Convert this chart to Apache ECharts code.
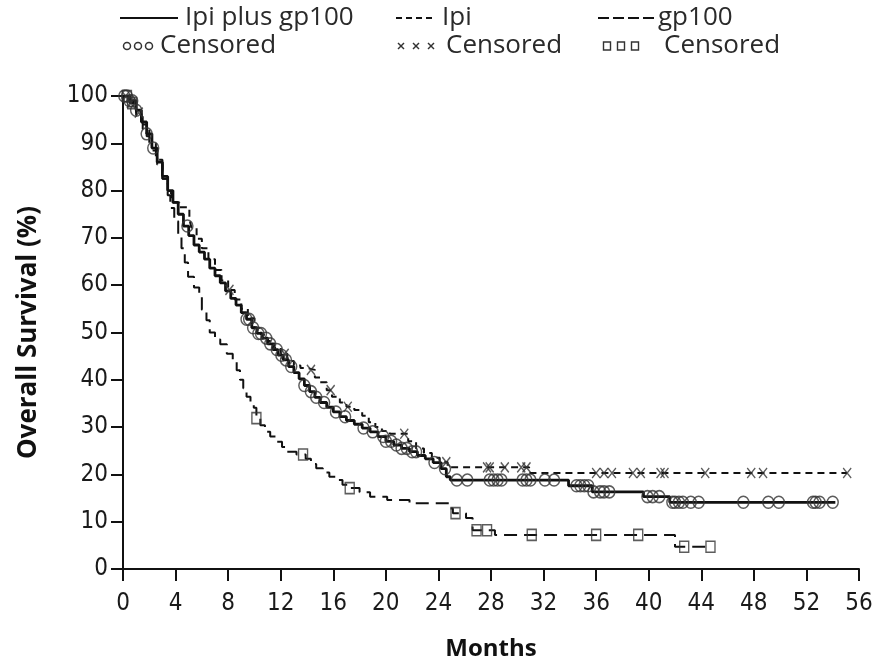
<!DOCTYPE html>
<html>
<head>
<meta charset="utf-8">
<style>
  html, body { margin: 0; padding: 0; background: #ffffff; }
  #chart { width: 876px; height: 663px; }
</style>
<script src="https://cdn.jsdelivr.net/npm/echarts@6/dist/echarts.min.js"></script>
</head>
<body>
<div id="chart"></div>
<script>
// Kaplan-Meier step curves: [month, survival %] at each drop
const comboCurve = [
  [0,100],[0.5,99],[1.0,97],[1.4,94.5],[1.8,92],[2.2,89],[2.6,86],[3.0,83],[3.4,80],
  [3.8,77.5],[4.2,75],[4.6,72.5],[5.0,70.5],[5.4,68.5],[5.8,67],[6.2,65.5],[6.6,63.6],
  [7.0,62],[7.4,60.5],[7.8,58.8],[8.2,57.2],[8.6,55.8],[9.0,54.2],[9.4,52.8],[9.8,51],
  [10.2,49.8],[10.6,48.8],[11.0,47.6],[11.4,46.4],[11.8,45.2],[12.2,44.2],[12.6,42.8],
  [13.0,41.5],[13.4,40.2],[13.8,38.8],[14.2,37.5],[14.6,36.3],[15.0,35.2],[15.5,34.2],
  [16.0,33.2],[16.5,32.2],[17.0,31.4],[17.6,30.6],[18.2,29.8],[18.8,29.0],[19.4,28.0],
  [20.0,27.0],[20.6,26.2],[21.2,25.5],[21.8,24.8],[22.4,24.0],[23.0,23.3],[23.6,22.5],
  [24.2,21.2],[24.6,19.5],[24.9,18.8],[33.9,17.6],[35.7,16.3],[39.6,15.3],[41.6,14.1],
  [54.2,14.1]
];
const ipiCurve = [
  [0,100],[0.5,98.5],[1.0,96.5],[1.4,94],[1.8,91.5],[2.2,88.5],[2.6,85.5],[3.0,82.5],
  [3.4,79.5],[3.7,77.5],[4.3,76.5],[5.05,74],[5.2,72.2],[5.6,69.8],[6.0,67.8],[6.5,65.5],
  [7.0,63.2],[7.5,61],[8.0,59],[8.5,57],[9.0,55],[9.5,53],[10.0,51],[10.5,49.5],
  [11.0,48.2],[11.5,46.8],[12.0,45.5],[12.5,44],[13.0,43],[13.5,42.5],[14.0,42.1],
  [14.6,40.5],[15.0,39.5],[15.5,37.8],[15.9,36.4],[16.5,35.2],[17.0,34.3],[17.6,33.6],
  [18.2,32.4],[18.7,31.0],[19.2,30.0],[19.7,29.2],[20.3,28.6],[21.7,27.0],[22.3,25.5],
  [22.9,24.5],[23.5,23.5],[24.1,22.6],[24.7,21.5],[30.9,20.3],[55.1,20.3]
];
const gp100Curve = [
  [0,100],[0.5,98.5],[1.0,96],[1.5,93],[2.0,90],[2.5,86.5],[3.0,82.5],[3.4,79],
  [3.6,76.3],[3.9,73.5],[4.2,70.6],[4.45,67.8],[4.7,64.8],[4.95,61.8],[5.4,59.5],
  [5.8,57.5],[6.0,54.8],[6.35,52.6],[6.6,50],[7.0,48.5],[7.4,47.5],[7.9,45.5],
  [8.35,43.8],[8.65,42],[8.9,40],[9.15,38.2],[9.4,36.4],[9.7,35.2],[9.95,34.1],
  [10.15,31.9],[10.45,30.4],[10.8,29],[11.2,28],[11.7,26.9],[12.1,25.8],[12.5,24.8],
  [13.2,24.2],[13.9,23.3],[14.3,22.2],[14.7,21.3],[15.2,20.4],[15.7,19.5],[16.2,18.8],
  [16.7,17.8],[17.25,17.1],[18.0,16.2],[18.8,15.3],[20.1,14.6],[21.8,13.9],[24.8,12.8],
  [25.1,11.8],[26.1,10.8],[26.6,8.2],[28.3,7.2],[42.0,4.7],[44.7,4.7]
];

// Censoring times (months)
const comboCensored = [
  0.1,0.3,0.5,0.7,1.0,1.8,2.3,4.9,9.4,9.6,9.9,10.3,10.5,10.9,11.2,11.7,12.05,12.4,12.8,
  13.8,14.3,14.7,15.3,16.2,16.9,18.3,19.0,19.8,20.0,20.4,20.8,21.2,21.6,22.0,22.3,23.7,
  24.5,25.4,26.2,27.9,28.2,28.5,28.8,30.4,30.7,31.0,32.1,32.8,34.5,34.8,35.1,35.4,35.8,
  36.3,36.6,37.0,39.9,40.3,40.8,41.8,42.0,42.3,42.6,43.2,43.8,47.2,49.1,49.9,52.5,52.7,
  53.0,54.0
];
const ipiCensored = [
  0.2,0.6,1.2,8.1,12.3,14.3,15.8,17.1,21.4,24.6,27.7,27.9,29.05,30.3,30.7,36.0,36.6,
  37.2,38.8,39.4,40.9,41.2,44.3,47.8,48.7,55.1
];
const gp100Censored = [
  0.3,0.7,10.15,13.7,17.25,25.3,26.9,27.7,31.1,36.0,39.2,42.7,44.7
];

const monthTicks = { min: 0, max: 56, interval: 4 };
const survivalTicks = { min: 0, max: 100, interval: 10 };

// Survival value of a step curve at a given month
function survivalAt(curve, t) {
  let v = curve[0][1];
  for (const [m, s] of curve) {
    if (m <= t + 1e-9) v = s; else break;
  }
  return v;
}
const censorPoints = (curve, times) => times.map(t => [t, survivalAt(curve, t)]);

const INK = '#111111';
const MARK = '#333333';
const crossPath = 'path://M0,0 L10,10 M10,0 L0,10';

const chart = echarts.init(document.getElementById('chart'), null, { renderer: 'canvas' });

const lineSeries = (name, data, type, width) => ({
  name, type: 'line', step: 'end', data, showSymbol: false, z: 3,
  lineStyle: { color: INK, width, type },
  silent: true, animation: false
});
const markSeries = (name, data, symbol, size, z) => ({
  name, type: 'scatter', data, symbol, symbolSize: size, z,
  itemStyle: { color: 'rgba(255,255,255,0)', borderColor: MARK, borderWidth: 1.5 },
  silent: true, animation: false
});

// Legend drawn as graphic primitives
const legendFont = '26px "Open Sans", sans-serif';
const legendText = (x, top, text) => ({
  type: 'text', left: x, top,
  style: { text, font: legendFont, fill: '#2a2a2a' }
});
const legendLine = (x1, x2, y, dash, w) => ({
  type: 'line', shape: { x1, y1: y, x2, y2: y },
  style: { stroke: INK, lineWidth: w, lineDash: dash }
});
const legendCircle = (cx, cy) => ({
  type: 'circle', shape: { cx, cy, r: 3.5 },
  style: { fill: 'none', stroke: MARK, lineWidth: 1.5 }
});
const legendCross = (cx, cy) => ({
  type: 'polyline', shape: { points: [[cx-3,cy-3],[cx+3,cy+3]] },
  style: { stroke: MARK, lineWidth: 1.4 }
});
const legendCross2 = (cx, cy) => ({
  type: 'polyline', shape: { points: [[cx+3,cy-3],[cx-3,cy+3]] },
  style: { stroke: MARK, lineWidth: 1.4 }
});
const legendSquare = (cx, cy) => ({
  type: 'rect', shape: { x: cx - 3.5, y: cy - 4, width: 7, height: 8 },
  style: { fill: 'none', stroke: MARK, lineWidth: 1.4 }
});

const ROW1 = 18, ROW2 = 46;
const graphics = [
  legendLine(120, 178, ROW1, null, 2), legendText(185, 5, 'Ipi plus gp100'),
  legendLine(396, 434, ROW1, [6, 4], 2), legendText(442, 5, 'Ipi'),
  legendLine(598, 654, ROW1, [11, 4], 2), legendText(658, 5, 'gp100'),
  legendCircle(127, ROW2), legendCircle(138, ROW2), legendCircle(149, ROW2),
  legendText(160, 33, 'Censored'),
  legendCross(401, ROW2), legendCross2(401, ROW2), legendCross(416, ROW2), legendCross2(416, ROW2),
  legendCross(431, ROW2), legendCross2(431, ROW2), legendText(446, 33, 'Censored'),
  legendSquare(607, ROW2), legendSquare(621, ROW2), legendSquare(635, ROW2),
  legendText(664, 33, 'Censored')
];

const tickFont = '"Liberation Sans Narrow", "DejaVu Sans Condensed", sans-serif';

chart.setOption({
  animation: false,
  backgroundColor: '#ffffff',
  grid: { left: 123, right: 17, top: 96, bottom: 94, containLabel: false, outerBoundsMode: 'none' },
  xAxis: {
    type: 'value', min: monthTicks.min, max: monthTicks.max, interval: monthTicks.interval,
    name: 'Months', nameLocation: 'middle', nameGap: 68,
    nameTextStyle: { fontFamily: '"Open Sans", sans-serif', fontWeight: 'bold', fontSize: 24, color: '#111' },
    axisLine: { show: true, onZero: false, lineStyle: { color: INK, width: 2 } },
    axisTick: { show: true, inside: false, length: 12, lineStyle: { color: INK, width: 2 } },
    axisLabel: { margin: 23, fontFamily: tickFont, fontSize: 24, color: '#1a1a1a' },
    splitLine: { show: false }
  },
  yAxis: {
    type: 'value', min: survivalTicks.min, max: survivalTicks.max, interval: survivalTicks.interval,
    name: 'Overall Survival (%)', nameLocation: 'middle', nameGap: 81, nameRotate: 90,
    nameTextStyle: { fontFamily: '"Open Sans", sans-serif', fontWeight: 'bold', fontSize: 26, color: '#111' },
    axisLine: { show: true, lineStyle: { color: INK, width: 2 } },
    axisTick: { show: true, inside: false, length: 12, lineStyle: { color: INK, width: 2 } },
    axisLabel: { margin: 15, fontFamily: tickFont, fontSize: 24, color: '#1a1a1a' },
    splitLine: { show: false }
  },
  graphic: graphics,
  series: [
    lineSeries('gp100', gp100Curve, [13, 7], 2),
    lineSeries('Ipi', ipiCurve, [7, 5], 2),
    lineSeries('Ipi plus gp100', comboCurve, 'solid', 2.8),
    markSeries('gp100 censored', censorPoints(gp100Curve, gp100Censored), 'rect', [9, 11], 4),
    markSeries('Ipi censored', censorPoints(ipiCurve, ipiCensored), crossPath, [8, 10], 4),
    markSeries('Ipi plus gp100 censored', censorPoints(comboCurve, comboCensored), 'circle', [11, 12], 5)
  ]
});
</script>
</body>
</html>
